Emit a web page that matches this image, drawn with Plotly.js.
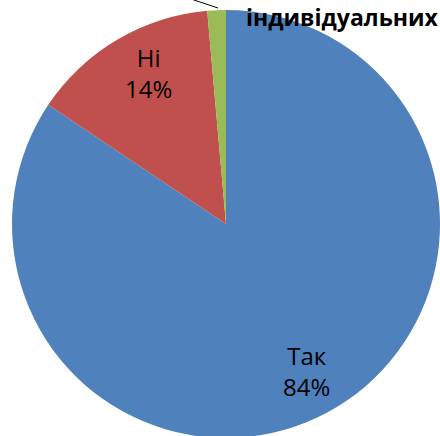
<!DOCTYPE html>
<html>
<head>
<meta charset="utf-8">
<script src="https://cdn.plot.ly/plotly-3.0.1.min.js"></script>
<style>
html, body { margin: 0; padding: 0; background: #ffffff; overflow: hidden; width: 440px; height: 436px; }
#chart { width: 440px; height: 448px; }
</style>
</head>
<body>
<div id="chart"></div>
<script>
// Data
const labels = ["Так", "Ні", "індивідуальних"];
const values = [84.4, 14.2, 1.4];
const colors = ["#4F81BD", "#C0504D", "#9BBB59"];

const W = 440, H = 448;
const px = x => x / W;
const py = y => 1 - y / H;

const total = values.reduce((a, b) => a + b, 0);
const pct = v => Math.round(v / total * 100) + "%";

const labelFont = { family: "Open Sans, sans-serif", size: 24, color: "#000000" };

const trace = {
  type: "pie",
  labels: labels,
  values: values,
  sort: false,
  direction: "clockwise",
  rotation: 0,
  textinfo: "none",
  hoverinfo: "skip",
  marker: { colors: colors, line: { width: 0 } },
  domain: { x: [px(12), px(440)], y: [py(438), py(10)] }
};

const layout = {
  width: W, height: H,
  margin: { l: 0, r: 0, t: 0, b: 0 },
  showlegend: false,
  paper_bgcolor: "#ffffff",
  annotations: [
    { text: labels[1] + "<br>" + pct(values[1]), x: px(148), y: py(73), xref: "paper", yref: "paper",
      xanchor: "center", yanchor: "middle", showarrow: false, font: labelFont, align: "center" },
    { text: labels[0] + "<br>" + pct(values[0]), x: px(306.5), y: py(371), xref: "paper", yref: "paper",
      xanchor: "center", yanchor: "middle", showarrow: false, font: labelFont, align: "center" },
    { text: "<b>" + labels[2] + "</b>", x: px(342), y: py(0), xref: "paper", yref: "paper",
      xanchor: "center", yanchor: "top", showarrow: false, borderpad: 0,
      font: { family: "Open Sans, sans-serif", size: 23, color: "#000000" } }
  ],
  shapes: [
    { type: "line", xref: "paper", yref: "paper", x0: px(191), y0: py(-1), x1: px(218), y1: py(8),
      line: { color: "#000000", width: 1 } }
  ]
};

Plotly.newPlot("chart", [trace], layout, { displayModeBar: false, staticPlot: true });
</script>
</body>
</html>
